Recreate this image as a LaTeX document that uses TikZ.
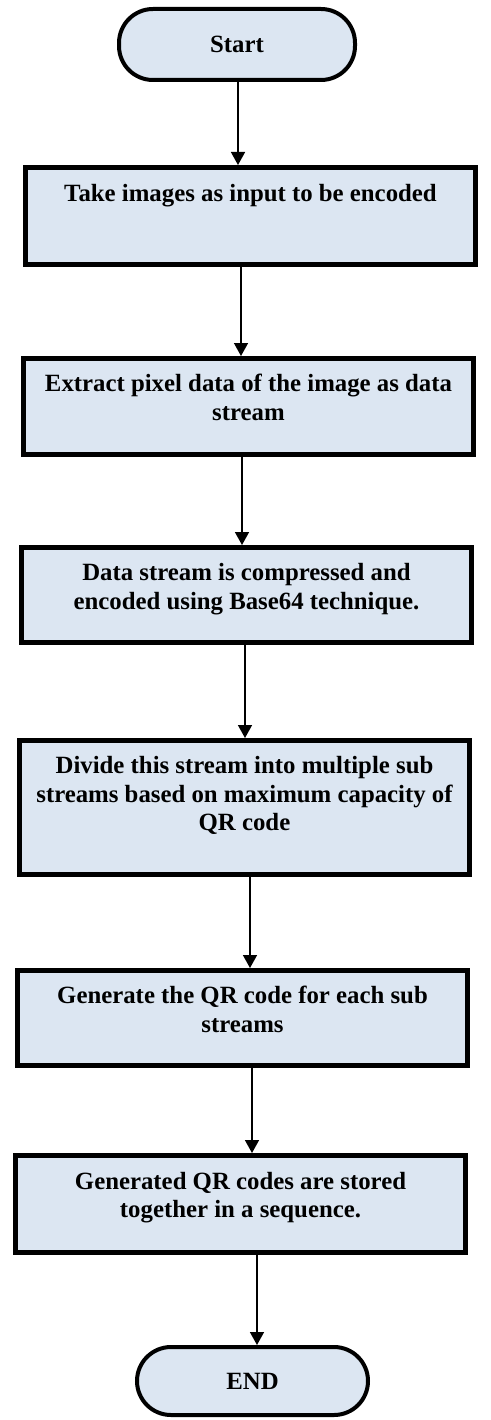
\documentclass[tikz,border=0pt]{standalone}
\usepackage{fontspec}
\setmainfont{Liberation Serif}
\usetikzlibrary{arrows.meta}
\definecolor{boxfill}{HTML}{DCE6F2}
\begin{document}
\begin{tikzpicture}[x=1pt,y=-1pt,
  stepbox/.style={draw=black, line width=5pt, fill=boxfill, minimum width=450pt, inner sep=0pt},
  term/.style={draw=black, line width=4pt, fill=boxfill, rounded corners=34pt, inner sep=0pt, font=\fontsize{24.8}{28.5}\selectfont\bfseries},
  txt/.style={align=center, inner sep=0pt, anchor=north, font=\fontsize{24.8}{28.5}\selectfont\bfseries},
  arr/.style={line width=1.5pt, -{Triangle[length=13pt,width=14pt]}}]
\useasboundingbox (0,0) rectangle (490,1420);
\node[term, minimum width=236pt, minimum height=71pt] (start) at (237,44.5) {Start};
\node[stepbox, minimum height=97pt] (b1) at (250.5,216) {};
\node[stepbox, minimum height=96pt] (b2) at (248.5,406.5) {};
\node[stepbox, minimum height=95pt] (b3) at (246.5,595) {};
\node[stepbox, minimum height=134pt] (b4) at (244.5,807.5) {};
\node[stepbox, minimum height=95pt] (b5) at (242.5,1018) {};
\node[stepbox, minimum height=97pt] (b6) at (240.5,1204) {};
\node[term, minimum width=231pt, minimum height=68pt] (end) at (252.5,1381) {END};
\node[txt] (t1) at ([yshift=-16pt]b1.north) {\strut Take images as input to be encoded};
\node[txt] (t2) at ([yshift=-15.5pt]b2.north) {\strut Extract pixel data of the image as data\\ stream};
\node[txt] (t3) at ([yshift=-15.5pt]b3.north) {\strut Data stream is compressed and\\ encoded using Base64 technique.};
\node[txt] (t4) at ([yshift=-15.5pt]b4.north) {\strut Divide this stream into multiple sub\\ streams based on maximum capacity of\\ QR code};
\node[txt] (t5) at ([yshift=-15.5pt]b5.north) {\strut Generate the QR code for each sub\\ streams};
\node[txt] (t6) at ([yshift=-16pt]b6.north) {\strut Generated QR codes are stored\\ together in a sequence.};
\draw[arr] ([xshift=1pt]start.south) -- ([xshift=-12.5pt]b1.north);
\draw[arr] ([xshift=-9.5pt]b1.south) -- ([xshift=-7.5pt]b2.north);
\draw[arr] ([xshift=-6.5pt]b2.south) -- ([xshift=-4.5pt]b3.north);
\draw[arr] ([xshift=-1.5pt]b3.south) -- ([xshift=0.5pt]b4.north);
\draw[arr] ([xshift=5.5pt]b4.south) -- ([xshift=7.5pt]b5.north);
\draw[arr] ([xshift=9.5pt]b5.south) -- ([xshift=11.5pt]b6.north);
\draw[arr] ([xshift=16.5pt]b6.south) -- ([xshift=4.5pt]end.north);
\end{tikzpicture}
\end{document}
